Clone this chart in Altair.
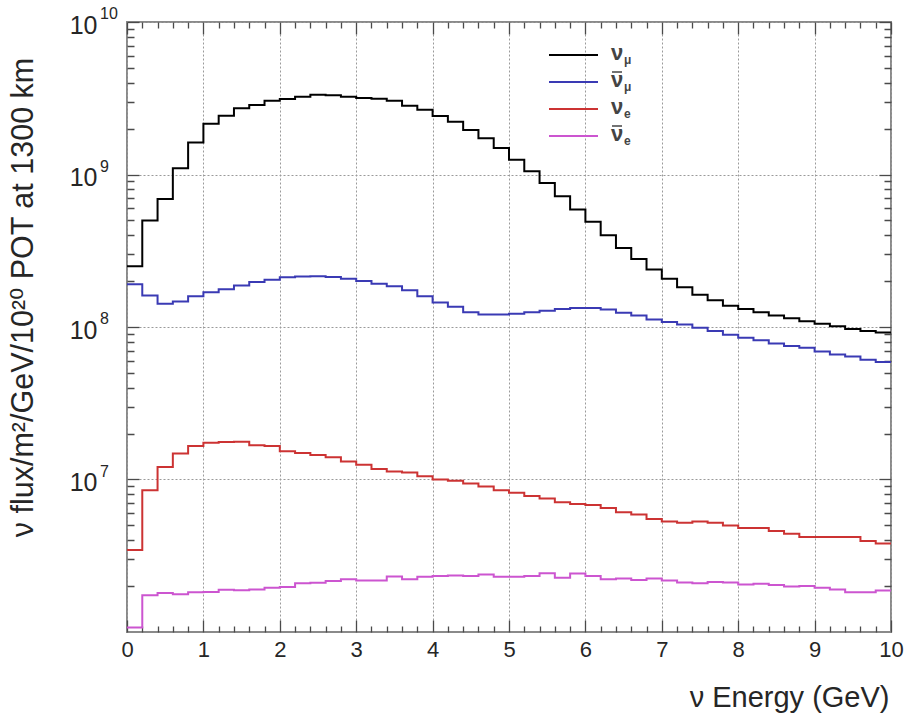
import altair as alt
import pandas as pd

# ---------------- data ----------------
BIN = 0.2  # GeV bin width, 50 bins from 0 to 10 GeV
series_names = ["numu", "numubar", "nue", "nuebar"]
series_colors = ["#000000", "#3a3ab4", "#cc3333", "#cc55d0"]

numu = [2.5e8, 5.0e8, 6.9e8, 1.1e9, 1.62e9, 2.15e9, 2.43e9, 2.72e9, 2.86e9, 3.04e9,
        3.13e9, 3.24e9, 3.34e9, 3.31e9, 3.24e9, 3.18e9, 3.14e9, 3.04e9, 2.82e9, 2.66e9,
        2.42e9, 2.22e9, 1.96e9, 1.73e9, 1.49e9, 1.25e9, 1.05e9, 8.8e8, 7.2e8, 5.9e8,
        4.9e8, 4.0e8, 3.3e8, 2.79e8, 2.38e8, 2.07e8, 1.82e8, 1.63e8, 1.50e8, 1.38e8,
        1.31e8, 1.25e8, 1.19e8, 1.14e8, 1.09e8, 1.05e8, 1.01e8, 9.7e7, 9.4e7, 9.2e7]
numubar = [1.91e8, 1.61e8, 1.42e8, 1.47e8, 1.59e8, 1.69e8, 1.77e8, 1.87e8, 1.97e8, 2.04e8,
           2.12e8, 2.14e8, 2.15e8, 2.13e8, 2.07e8, 2.0e8, 1.92e8, 1.85e8, 1.74e8, 1.59e8,
           1.45e8, 1.36e8, 1.25e8, 1.21e8, 1.21e8, 1.22e8, 1.25e8, 1.28e8, 1.31e8, 1.33e8,
           1.33e8, 1.30e8, 1.24e8, 1.19e8, 1.12e8, 1.08e8, 1.04e8, 9.9e7, 9.4e7, 8.9e7,
           8.5e7, 8.2e7, 7.8e7, 7.5e7, 7.3e7, 6.9e7, 6.6e7, 6.4e7, 6.1e7, 5.9e7]
nue = [3.45e6, 8.5e6, 1.21e7, 1.48e7, 1.66e7, 1.74e7, 1.76e7, 1.77e7, 1.68e7, 1.66e7,
       1.53e7, 1.49e7, 1.45e7, 1.40e7, 1.31e7, 1.25e7, 1.17e7, 1.13e7, 1.11e7, 1.05e7,
       1.0e7, 9.8e6, 9.4e6, 9.0e6, 8.5e6, 8.2e6, 7.8e6, 7.5e6, 7.1e6, 6.9e6,
       6.8e6, 6.5e6, 6.1e6, 5.9e6, 5.5e6, 5.3e6, 5.2e6, 5.3e6, 5.2e6, 5.0e6,
       4.8e6, 4.8e6, 4.6e6, 4.4e6, 4.2e6, 4.2e6, 4.2e6, 4.2e6, 3.95e6, 3.8e6]
nuebar = [1.07e6, 1.74e6, 1.80e6, 1.77e6, 1.82e6, 1.83e6, 1.89e6, 1.88e6, 1.90e6, 1.95e6,
          1.97e6, 2.09e6, 2.10e6, 2.16e6, 2.22e6, 2.18e6, 2.18e6, 2.31e6, 2.22e6, 2.30e6,
          2.33e6, 2.35e6, 2.33e6, 2.38e6, 2.30e6, 2.30e6, 2.33e6, 2.43e6, 2.27e6, 2.42e6,
          2.33e6, 2.22e6, 2.24e6, 2.19e6, 2.24e6, 2.18e6, 2.11e6, 2.09e6, 2.13e6, 2.11e6,
          2.05e6, 2.07e6, 2.03e6, 1.99e6, 2.0e6, 1.95e6, 1.9e6, 1.82e6, 1.82e6, 1.87e6]

x_major = [0, 1, 2, 3, 4, 5, 6, 7, 8, 9, 10]
x_minor = [round(i * BIN, 1) for i in range(51) if (i * BIN) % 1 > 1e-6 and (i * BIN) % 1 < 1 - 1e-6]
y_major = [1e7, 1e8, 1e9, 1e10]
y_major_exp = ["7", "8", "9", "10"]
y_minor = [float(m * 10 ** d) for d in range(6, 10) for m in range(2, 10)]

legend_main = ["ν", "ν", "ν", "ν"]
legend_sub = ["μ", "μ", "e", "e"]
legend_bar = [False, True, False, True]

# ---------------- build tables ----------------
all_vals = [numu, numubar, nue, nuebar]
rows = []
for name, vals in zip(series_names, all_vals):
    for i, v in enumerate(vals + [vals[-1]]):
        rows.append({"E": round(i * BIN, 3), "flux": v, "s": name})
df = pd.DataFrame(rows)

W, H = 764, 610
FONT = "Liberation Sans, Arial, Helvetica, DejaVu Sans"
TXT = "#262626"
TICK = "#4a4a4a"
GRID = "#9a9a9a"
MAJ = 12  # major tick length (px), ticks point into the frame

xscale = alt.Scale(domain=[0, 10], nice=False, zero=False)
yscale = alt.Scale(type="log", domain=[1e6, 1e10], nice=False)

X_IS_MAJOR = "abs(datum.value - round(datum.value)) < 0.000001"
Y_IS_MAJOR = "abs(log(datum.value) / LN10 - round(log(datum.value) / LN10)) < 0.001"

x_all = sorted(x_major + x_minor)
y_all = sorted(y_major + y_minor)


def tick_props(test, minor_len):
    # axis pulled inside the frame by MAJ px; minor ticks keep only their outer part
    return dict(
        offset=-MAJ, ticks=True, tickSize=MAJ, tickColor=TICK, tickWidth=1.3,
        tickDash={"condition": {"test": test, "value": []}, "value": [0, MAJ - minor_len, minor_len]},
        domain=False, labelOverlap=False, labelFlush=False, labelBound=False,
    )


x_axis = alt.Axis(
    orient="bottom", values=x_all, **tick_props(X_IS_MAJOR, 6),
    grid=True, gridColor=GRID, gridDash=[2, 2], gridWidth=1,
    gridOpacity={"condition": {"test": X_IS_MAJOR, "value": 1}, "value": 0},
    labelExpr=f"{X_IS_MAJOR} ? format(datum.value, 'd') : ''",
    labelFont=FONT, labelFontSize=22, labelColor=TXT, labelPadding=7,
    title="ν Energy (GeV)", titleFont=FONT, titleFontSize=29,
    titleFontWeight="normal", titleColor=TXT,
    titleAnchor="end", titleAlign="right", titleBaseline="middle",
    titleX=W - 2, titleY=65 + MAJ)
y_axis = alt.Axis(
    orient="left", values=y_all, **tick_props(Y_IS_MAJOR, 7),
    grid=True, gridColor=GRID, gridDash=[2, 2], gridWidth=1,
    gridOpacity={"condition": {"test": Y_IS_MAJOR, "value": 1}, "value": 0},
    labelExpr=f"{Y_IS_MAJOR} ? '10' : ''",
    labelFont=FONT, labelFontSize=25, labelColor=TXT, labelPadding=30, labelOffset=3,
    title="ν flux/m²/GeV/10²⁰ POT at 1300 km", titleFont=FONT,
    titleFontSize=30.5, titleFontWeight="normal", titleColor=TXT,
    titleAngle=270, titleAlign="center", titleBaseline="middle",
    titleX=-104 - MAJ, titleY=275)

x_axis_top = alt.Axis(orient="top", values=x_all, **tick_props(X_IS_MAJOR, 6),
                      grid=False, labels=False, title=None)
y_axis_right = alt.Axis(orient="right", values=y_all, **tick_props(Y_IS_MAJOR, 7),
                        grid=False, labels=False, title=None)

color = alt.Color("s:N", scale=alt.Scale(domain=series_names, range=series_colors), legend=None)

lines = alt.Chart(df).mark_line(interpolate="step-after", strokeWidth=2).encode(
    x=alt.X("E:Q", scale=xscale, axis=x_axis),
    y=alt.Y("flux:Q", scale=yscale, axis=y_axis),
    color=color,
    order=alt.Order("E:Q"),
)

# invisible copy of the histograms that carries the top and right frame ticks
frame = alt.Chart(df).mark_line(interpolate="step-after", opacity=0).encode(
    x=alt.X("E:Q", scale=xscale, axis=x_axis_top),
    y=alt.Y("flux:Q", scale=yscale, axis=y_axis_right),
    color=color,
    order=alt.Order("E:Q"),
)

# exponents of the y-axis labels
exp_df = pd.DataFrame({"flux": y_major, "lab": y_major_exp})
exps = alt.Chart(exp_df).mark_text(
    font=FONT, fontSize=16, color=TXT, align="left", baseline="middle", dy=-8
).encode(y=alt.Y("flux:Q", scale=yscale, axis=None), x=alt.value(-27), text="lab:N")

# ---------------- legend (drawn by hand) ----------------
leg_layers = []
LX0, LX1, LTX = 422, 471, 484
for i, (name, col) in enumerate(zip(series_names, series_colors)):
    yy = 33 + 27 * i
    one = pd.DataFrame({"main": [legend_main[i]], "sub": [legend_sub[i]]})
    leg_layers.append(alt.Chart(one).mark_rule(color=col, strokeWidth=2).encode(
        x=alt.value(LX0), x2=alt.value(LX1), y=alt.value(yy)))
    leg_layers.append(alt.Chart(one).mark_text(
        font=FONT, fontSize=22, fontWeight="bold", align="left", baseline="middle", color="#444"
    ).encode(x=alt.value(LTX), y=alt.value(yy - 2), text="main:N"))
    leg_layers.append(alt.Chart(one).mark_text(
        font=FONT, fontSize=12, fontWeight="bold", align="left", baseline="middle", color="#444"
    ).encode(x=alt.value(LTX + 13), y=alt.value(yy + 5), text="sub:N"))
    if legend_bar[i]:
        leg_layers.append(alt.Chart(one).mark_rule(color="#444", strokeWidth=1.5).encode(
            x=alt.value(LTX + 1), x2=alt.value(LTX + 11), y=alt.value(yy - 10)))

chart = alt.layer(lines, frame, exps, *leg_layers).properties(
    width=W, height=H,
    autosize=alt.AutoSizeParams(type="none"),
    padding={"left": 127, "top": 22, "right": 14, "bottom": 88},
).resolve_axis(x="independent", y="independent").configure(
    background="white"
).configure_view(stroke="#8a8a8a", strokeWidth=2)

chart.save("out.html", embed_options={"renderer": "svg", "actions": False})
